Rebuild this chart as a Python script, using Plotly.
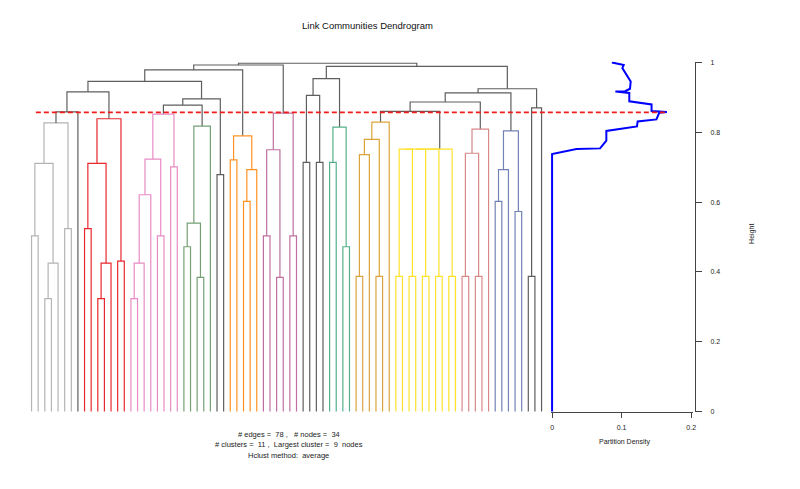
import plotly.graph_objects as go

W, H = 800, 489

# ---------------- data ----------------
# hclust-style merge table: negative = leaf (1-based position in plot order),
# positive = earlier merge row (1-based)
merge_a = [-3, 1, -1, 3, -6, 4, 6,
           -11, 8, -9, 10, -14, 11, 7,
           -16, 15, 16, -20, 17, -22, 19,
           -24, -26, 22, 24, 21,
           -29, 26, 14,
           -31, -33, 31, 30, 29,
           -36, -38, 35, -40, 37, 34,
           -42, -44, 41,
           -46, -48, 44, 43,
           -50, 48, -53, 49, 51,
           -56, -58, -60, -62, -64, 53, 58, 59, 60, 52,
           -66, -68, 63, 65, 62,
           -71, 68, -74, 69, 67,
           -76, 73, 72, 47, 40]
merge_b = [-4, -5, -2, 2, -7, 5, -8,
           -12, -13, -10, 9, -15, 12, 13,
           -17, -18, -19, -21, 18, -23, 20,
           -25, -27, 23, -28, 25,
           -30, 27, 28,
           -32, -34, -35, 32, 33,
           -37, -39, 36, -41, 38, 39,
           -43, -45, 42,
           -47, -49, 45, 46,
           -51, -52, -54, 50, -55,
           -57, -59, -61, -63, -65, 54, 55, 56, 57, 61,
           -67, -69, 64, -70, 66,
           -72, -73, -75, 70, 71,
           -77, -78, 74, 75, 76]
merge_h = [0.323, 0.425, 0.503, 0.711, 0.524, 0.827, 0.8585,
           0.323, 0.425, 0.524, 0.711, 0.431, 0.839, 0.916,
           0.323, 0.425, 0.621, 0.503, 0.723, 0.701, 0.852,
           0.472, 0.384, 0.540, 0.818, 0.878,
           0.679, 0.896, 0.946,
           0.721, 0.602, 0.693, 0.790, 0.979,
           0.503, 0.384, 0.750, 0.503, 0.855, 0.993,
           0.714, 0.714, 0.906,
           0.714, 0.472, 0.815, 0.954,
           0.387, 0.736, 0.387, 0.780, 0.829,
           0.387, 0.387, 0.387, 0.387, 0.387, 0.752, 0.752, 0.752, 0.752, 0.860,
           0.387, 0.387, 0.740, 0.809, 0.887,
           0.602, 0.693, 0.573, 0.804, 0.913,
           0.387, 0.870, 0.925, 0.989, 0.998]

# cluster id of each leaf (edge) in plot order, 0 = not in a community
leaf_cluster = ([1] * 7 + [0] + [2] * 7 + [3] * 8 + [4] * 5 + [0] * 2 +
                [5] * 5 + [6] * 6 + [0] * 4 + [7] * 4 + [8] * 6 + [9] * 10 +
                [10] * 5 + [11] * 5 + [0] * 3)

cluster_colors = ["#b4b4b4", "#e8282e", "#e98bc4", "#74a074", "#ff9222",
                  "#bf6f9e", "#55b08a", "#dba33c", "#ffe12a", "#d98888",
                  "#7282b5"]
other_color = "#5e5e5e"

cut_height = 0.857

pd_density = [0, 0, 0.035, 0.069, 0.078, 0.078, 0.122, 0.123, 0.150, 0.154,
              0.165, 0.156, 0.143, 0.143, 0.111, 0.111, 0.091, 0.105, 0.112,
              0.113, 0.107, 0.101, 0.103, 0.086]
pd_height = [0, 0.738, 0.752, 0.754, 0.776, 0.804, 0.817, 0.831, 0.837, 0.856,
             0.858, 0.860, 0.861, 0.880, 0.889, 0.913, 0.917, 0.918, 0.925,
             0.946, 0.965, 0.984, 0.993, 1.0]

pd_ticks = [0, 0.1, 0.2]
pd_ticklabels = ["0", "0.1", "0.2"]
height_ticks = [0, 0.2, 0.4, 0.6, 0.8, 1.0]
height_ticklabels = ["0", "0.2", "0.4", "0.6", "0.8", "1"]

n_edges, n_nodes, n_clusters, largest_cluster = 78, 34, 11, 9
hclust_method = "average"

# ---------------- layout constants (pixels, page offset compensated) ----------------
OFF = 8.0
leaf0_px, leaf_step = 30.7 - OFF, 6.665
h0_px, h1_px = 412.7 - OFF, 61.0 - OFF
ypad = 0.003
pd0_px, pd_scale = 554.5 - OFF, 700.0
xpad2 = 0.002
haxis_px = 698.3 - OFF
cut_start = 0.65  # in leaf units

# ---------------- build dendrogram segments ----------------
mx, mcl = [], []


def ref(r):
    if r < 0:
        i = -r - 1
        return float(i), 0.0, leaf_cluster[i]
    return mx[r - 1], merge_h[r - 1], mcl[r - 1]


segs = {}
for a, b, h in zip(merge_a, merge_b, merge_h):
    xa, ha, ca = ref(a)
    xb, hb, cb = ref(b)
    c = ca if (ca == cb and ca != 0) else 0
    mx.append((xa + xb) / 2.0)
    mcl.append(c)
    col = cluster_colors[c - 1] if c else other_color
    xs, ys = segs.setdefault(col, ([], []))
    xs += [xa, xa, xb, xb, None]
    ys += [ha, h, h, hb, None]

fig = go.Figure()
for col, (xs, ys) in segs.items():
    fig.add_trace(go.Scatter(x=xs, y=ys, mode="lines",
                             line=dict(color=col, width=1.2),
                             hoverinfo="skip", showlegend=False,
                             xaxis="x", yaxis="y"))

fig.add_trace(go.Scatter(x=pd_density, y=pd_height, mode="lines",
                         line=dict(color="#0000ff", width=2),
                         hoverinfo="skip", showlegend=False,
                         xaxis="x2", yaxis="y"))

# axis geometry
xmin = -leaf0_px / leaf_step
xmax = (W - leaf0_px) / leaf_step
scale_y = h0_px - h1_px
ydom = [(H - (h0_px + ypad * scale_y)) / H, (H - (h1_px - ypad * scale_y)) / H]
x2range = [-xpad2, pd_ticks[-1] + xpad2]
x2dom = [(pd0_px + x2range[0] * pd_scale) / W, (pd0_px + x2range[1] * pd_scale) / W]


def paper_x(v):
    return (v - xmin) / (xmax - xmin)


def paper_x2(v):
    return x2dom[0] + (v - x2range[0]) / (x2range[1] - x2range[0]) * (x2dom[1] - x2dom[0])


axis_col = "#444444"
font_family = "Liberation Sans, Arial, sans-serif"

fig.update_layout(
    width=W, height=H,
    margin=dict(l=0, r=0, t=0, b=0),
    paper_bgcolor="white", plot_bgcolor="rgba(0,0,0,0)",
    font=dict(family=font_family, size=7, color="#222222"),
    showlegend=False,
    xaxis=dict(domain=[0, 1], range=[xmin, xmax], visible=False, anchor="y"),
    xaxis2=dict(domain=x2dom, range=x2range, anchor="y",
                showline=True, linecolor=axis_col, linewidth=1,
                ticks="outside", ticklen=5, tickcolor=axis_col, tickwidth=1,
                tickvals=pd_ticks, ticktext=pd_ticklabels,
                tickfont=dict(size=7, color="#222222"),
                ticklabelstandoff=3,
                showgrid=False, zeroline=False),
    yaxis=dict(domain=ydom, range=[-ypad, 1 + ypad], side="right",
               anchor="free", position=haxis_px / W,
               showline=True, linecolor=axis_col, linewidth=1,
               ticks="outside", ticklen=6, tickcolor=axis_col, tickwidth=1,
               tickvals=height_ticks, ticktext=height_ticklabels,
               tickfont=dict(size=7, color="#222222"),
               ticklabelstandoff=7,
               showgrid=False, zeroline=False),
)

# cut line
fig.add_shape(type="line", xref="paper", yref="y",
              x0=paper_x(cut_start), x1=paper_x2(max(pd_density)),
              y0=cut_height, y1=cut_height,
              line=dict(color="#ee1c1c", width=1.8, dash="5px,3px"),
              layer="above")

mid_dend = paper_x((len(leaf_cluster) - 1) / 2.0) + 2 / W
ann = [
    dict(text="Link Communities Dendrogram", x=(369 - OFF) / W, y=1 - (23.7 - OFF) / H,
         font=dict(size=9.5, color="#111111")),
    dict(text=f"# edges =  {n_edges} ,   # nodes =  {n_nodes}", x=mid_dend,
         y=1 - (436 - OFF) / H, font=dict(size=7.5)),
    dict(text=f"# clusters =  {n_clusters} ,  Largest cluster =  {largest_cluster}  nodes",
         x=mid_dend, y=1 - (446.5 - OFF) / H, font=dict(size=7.5)),
    dict(text=f"Hclust method:  {hclust_method}", x=mid_dend, y=1 - (457 - OFF) / H,
         font=dict(size=7.5)),
    dict(text="Partition Density", x=(x2dom[0] + x2dom[1]) / 2 + 3 / W,
         y=1 - (444 - OFF) / H, font=dict(size=7)),
    dict(text="Height", x=(755.7 - OFF) / W, y=1 - (233.7 - OFF) / H, textangle=-90,
         font=dict(size=7)),
]
for a in ann:
    fig.add_annotation(xref="paper", yref="paper", showarrow=False,
                       xanchor="center", yanchor="middle", **a)

fig.write_html("out.html")
